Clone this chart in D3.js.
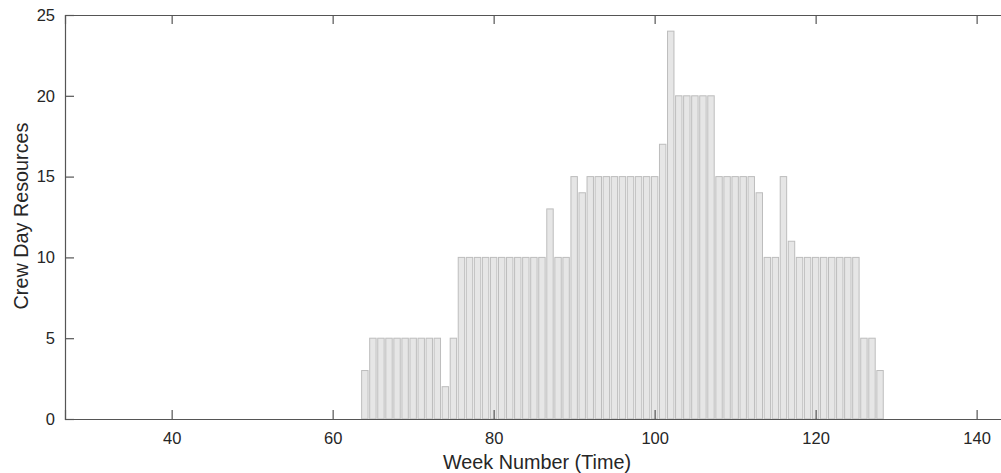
<!DOCTYPE html>
<html lang="en">
<head>
<meta charset="UTF-8">
<title>Crew Day Resources</title>
<script src="https://cdn.jsdelivr.net/npm/d3@7"></script>
<style>
  body { margin: 0; background: #fff; }
  text { font-family: "Liberation Sans", Arial, sans-serif; fill: #262626; }
</style>
</head>
<body>
<script>
// data
var weeks = d3.range(64, 129);
var crewDays = [
  3,                                  // 64
  5, 5, 5, 5, 5, 5, 5, 5, 5,          // 65-73
  2, 5,                               // 74-75
  10, 10, 10, 10, 10, 10, 10, 10, 10, 10, 10, // 76-86
  13, 10, 10, 15, 14,                 // 87-91
  15, 15, 15, 15, 15, 15, 15, 15, 15, // 92-100
  17, 24, 20, 20, 20, 20, 20,         // 101-107
  15, 15, 15, 15, 15, 14,             // 108-113
  10, 10, 15, 11,                     // 114-117
  10, 10, 10, 10, 10, 10, 10, 10,     // 118-125
  5, 5, 3                             // 126-128
];
var xTicks = [40, 60, 80, 100, 120, 140];
var yTicks = [0, 5, 10, 15, 20, 25];

var width = 1001, height = 473;
var svg = d3.select("body").append("svg")
    .attr("width", width)
    .attr("height", height);

// axes box: left 65, top 15, bottom 419, right edge runs off the picture
var x = d3.scaleLinear().domain([26.75, 143.4]).range([65, 1004]);
var y = d3.scaleLinear().domain([0, 25]).range([419, 15]);
var barW = 0.8 * (x(1) - x(0));

var data = weeks.map(function(w, i) { return {week: w, value: crewDays[i]}; });

svg.append("g").selectAll("rect")
    .data(data)
    .enter()
    .append("rect")
    .attr("x", function(d) { return x(d.week) - barW / 2; })
    .attr("y", function(d) { return y(d.value); })
    .attr("width", barW)
    .attr("height", function(d) { return y(0) - y(d.value); })
    .attr("fill", "#e6e6e6")
    .attr("stroke", "#bdbdbd")
    .attr("stroke-width", 1);

var axisColor = "#555";
var tickLen = 9;

// bottom axis, ticks inward
var gx = svg.append("g")
    .attr("transform", "translate(0," + y(0) + ")")
    .call(d3.axisBottom(x).tickValues(xTicks).tickSize(-tickLen).tickPadding(13).tickFormat(d3.format("d")));
// top axis, ticks only
var gt = svg.append("g")
    .attr("transform", "translate(0," + y(25) + ")")
    .call(d3.axisTop(x).tickValues(xTicks).tickSize(-tickLen).tickFormat(""));
// left axis
var gy = svg.append("g")
    .attr("transform", "translate(" + x.range()[0] + ",0)")
    .call(d3.axisLeft(y).tickValues(yTicks).tickSize(-tickLen).tickPadding(10));

[gx, gt, gy].forEach(function(g) {
    g.select(".domain").attr("stroke", axisColor).attr("stroke-width", 1.2);
    g.selectAll(".tick line").attr("stroke", axisColor).attr("stroke-width", 1.2);
    g.selectAll(".tick text")
        .attr("fill", "#262626")
        .style("font-family", "'Liberation Sans', Arial, sans-serif")
        .style("font-size", "16.5px");
});

// axis titles
svg.append("text")
    .attr("x", 537)
    .attr("y", 469)
    .style("text-anchor", "middle")
    .style("font-size", "19.8px")
    .text("Week Number (Time)");

svg.append("text")
    .attr("transform", "translate(28,216) rotate(-90)")
    .style("text-anchor", "middle")
    .style("font-size", "19.8px")
    .text("Crew Day Resources");
</script>
</body>
</html>
